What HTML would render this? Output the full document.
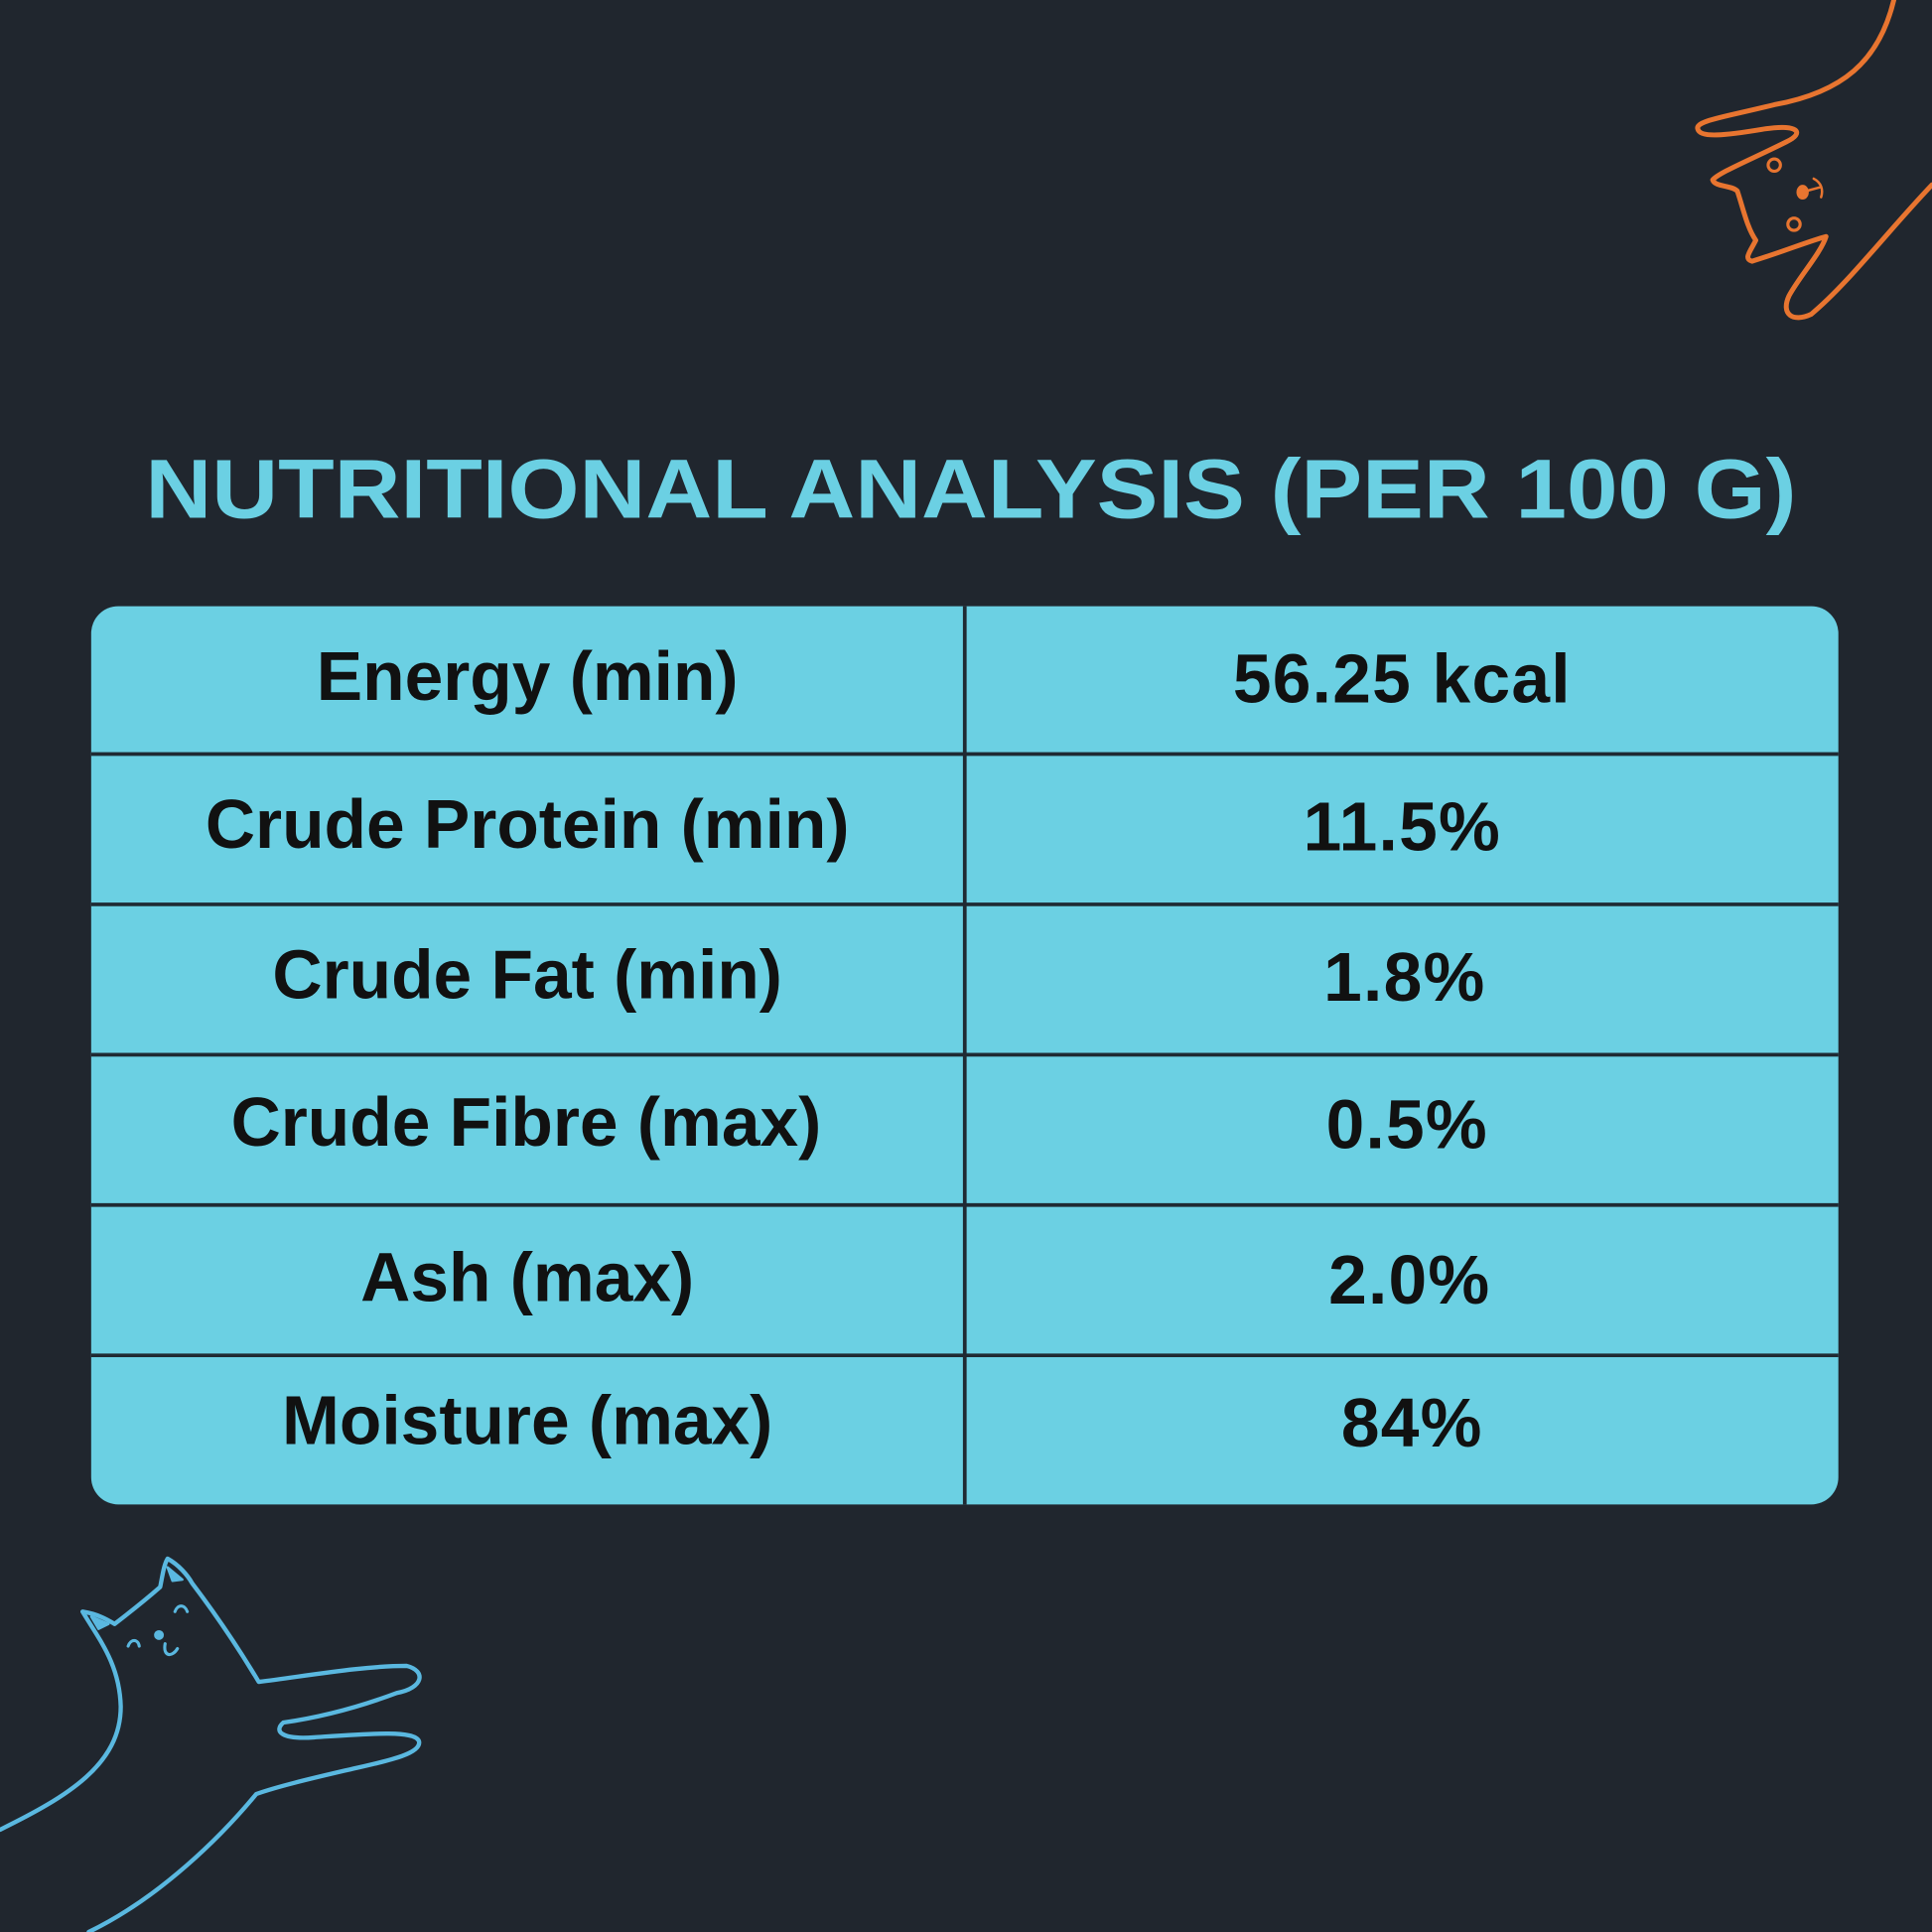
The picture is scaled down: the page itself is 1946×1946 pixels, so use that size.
<!DOCTYPE html>
<html><head><meta charset="utf-8"><style>
html,body{margin:0;padding:0;background:#20262e;}
svg{display:block}
</style></head><body>
<svg width="1946" height="1946" viewBox="0 0 1568 1568" xmlns="http://www.w3.org/2000/svg">
<rect width="1568" height="1568" fill="#20262e"/>
<text x="118" y="420" font-family="Liberation Sans, sans-serif" font-weight="bold" font-size="68" fill="#6bd0e3" textLength="1340" lengthAdjust="spacingAndGlyphs">NUTRITIONAL ANALYSIS (PER 100 G)</text>
<rect x="74" y="492" width="1418" height="729" rx="22" fill="#6bd0e3"/>
<g stroke="#1f2a33" stroke-width="3">
<line x1="74" y1="612" x2="1492" y2="612"/>
<line x1="74" y1="734" x2="1492" y2="734"/>
<line x1="74" y1="856" x2="1492" y2="856"/>
<line x1="74" y1="978" x2="1492" y2="978"/>
<line x1="74" y1="1100" x2="1492" y2="1100"/>
<line x1="783" y1="492" x2="783" y2="1221"/>
</g>
<g font-family="Liberation Sans, sans-serif" font-weight="bold" font-size="56" fill="#111" text-anchor="middle">
<text x="428" y="568">Energy (min)</text>
<text x="428" y="688">Crude Protein (min)</text>
<text x="428" y="810">Crude Fat (min)</text>
<text x="427" y="930">Crude Fibre (max)</text>
<text x="428" y="1056">Ash (max)</text>
<text x="428" y="1172">Moisture (max)</text>
</g>
<g font-family="Liberation Sans, sans-serif" font-weight="bold" font-size="56" fill="#111" text-anchor="middle" letter-spacing="1">
<text x="1138" y="570">56.25 kcal</text>
<text x="1138" y="690">11.5%</text>
<text x="1140" y="812">1.8%</text>
<text x="1142" y="932">0.5%</text>
<text x="1144" y="1058">2.0%</text>
<text x="1146" y="1174">84%</text>
</g>
<g fill="none" stroke="#e87530" stroke-width="4" stroke-linecap="round" stroke-linejoin="round">
<path d="M1537,0 C1525,50 1495,75 1440,85 C1400,95 1375,98 1378,105 C1380,112 1400,110 1430,105 C1460,100 1465,108 1450,115 C1420,130 1395,140 1390,146 C1392,152 1405,150 1410,155 C1415,170 1418,185 1425,195 C1420,205 1415,210 1422,212 C1445,205 1470,195 1482,192 C1478,205 1460,225 1452,240 C1445,255 1455,262 1470,255 C1500,230 1530,190 1568,150"/>
<circle cx="1440" cy="134" r="5" stroke-width="2.5"/>
<circle cx="1456" cy="182" r="5" stroke-width="2.5"/>
<path d="M1466,155 L1477,152 M1472,145 C1478,148 1480,154 1478,160" stroke-width="2"/>
</g>
<ellipse cx="1463" cy="156" rx="5" ry="6" fill="#e87530"/>
<g fill="none" stroke="#5ab8e0" stroke-width="3.5" stroke-linecap="round" stroke-linejoin="round">
<path d="M0,1485 C55,1458 98,1432 98,1385 C97,1350 80,1330 67,1308 C80,1310 88,1315 93,1318 C110,1305 122,1295 130,1288 C132,1278 133,1270 136,1265 C145,1270 152,1278 156,1285 C175,1310 195,1340 210,1365 C250,1360 295,1352 330,1352 C346,1356 344,1370 322,1374 C290,1386 258,1394 230,1398 C222,1405 228,1412 255,1410 C300,1407 336,1404 340,1413 C343,1424 310,1430 280,1437 C250,1444 225,1450 208,1456 C180,1490 130,1540 72,1568"/>
<path d="M74,1312 L80,1322 L88,1318 Z M136,1272 L140,1283 L148,1282 Z" fill="#5ab8e0" stroke-width="2"/>
<path d="M104,1336 C106,1330 112,1330 113,1336 M142,1308 C144,1302 150,1302 152,1308 M134,1334 C132,1345 140,1345 144,1338" stroke-width="2.5"/>
</g>
<circle cx="129" cy="1327" r="4" fill="#5ab8e0"/>
</svg>
</body></html>
